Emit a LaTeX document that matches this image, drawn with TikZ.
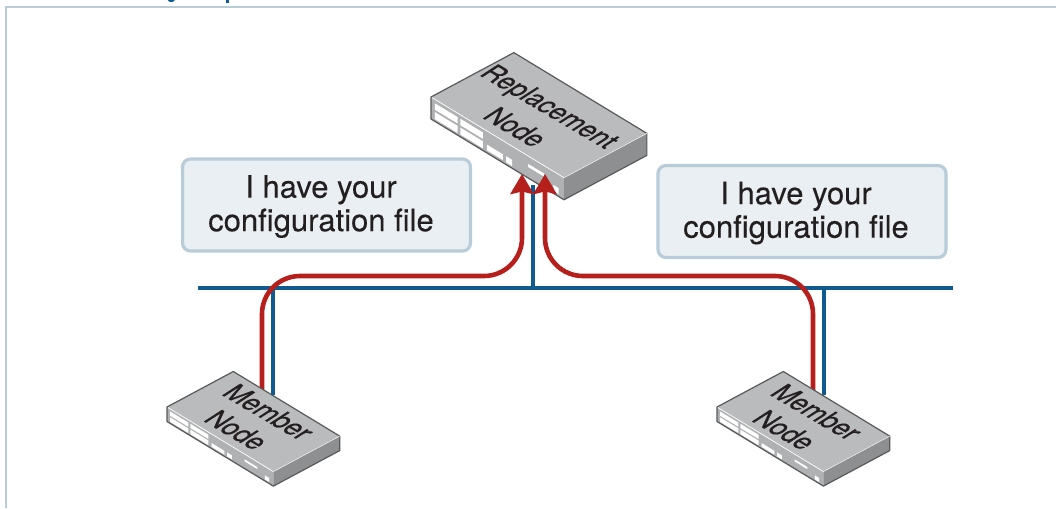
\documentclass[tikz,border=0pt]{standalone}
\usepackage{fontspec}
\setmainfont{TeX Gyre Heros}
\newfontfamily\swfont[FakeBold=0.5]{TeX Gyre Heros}
\newfontfamily\msgfont[FakeBold=0.2]{TeX Gyre Heros}
\usetikzlibrary{arrows.meta}
\definecolor{frameC}{HTML}{B8CCD9}
\definecolor{boxF}{HTML}{E9EFF2}
\definecolor{busC}{HTML}{0F5A8F}
\definecolor{redC}{HTML}{B5201C}
\definecolor{topC}{HTML}{BABBBD}
\definecolor{frontC}{HTML}{B0B1B3}
\definecolor{sideC}{HTML}{8E8F91}
\definecolor{edgeC}{HTML}{58595B}
\definecolor{inkC}{HTML}{231F20}
\tikzset{
  x=1pt,y=-1pt,
  framel/.style={draw=frameC,line width=2.2pt},
  msgbox/.style={draw=frameC,fill=boxF,line width=3.2pt,rounded corners=8pt,minimum width=288pt,minimum height=92pt,inner sep=0pt},
  msgtext/.style={align=center,inner sep=0pt,text=inkC,font=\msgfont\fontsize{31}{33.5}\selectfont},
  busline/.style={draw=busC,line width=3.6pt},
  redline/.style={draw=redC,line width=4.6pt},
  swlabel/.style={text=inkC,inner sep=0pt,rotate=-30.5,xslant=0.5,yscale=1.05,font=\swfont\fontsize{25}{26}\selectfont},
  portw/.style={fill=white},
}
% #1 name, #2 left x, #3 left y, #4 scale, #5 height
\newcommand{\netswitch}[5]{%
  \begin{scope}[shift={(#2,#3)}]
    \coordinate (#1-L) at (0,0);
    \coordinate (#1-B) at ({66.3*#4},{-35.5*#4});
    \coordinate (#1-F) at ({106.4*#4},{64.6*#4});
    \coordinate (#1-R) at ({172.7*#4},{29.1*#4});
    \coordinate (#1-Ld) at (0,#5);
    \coordinate (#1-Fd) at ({106.4*#4},{64.6*#4+#5});
    \coordinate (#1-Rd) at ({172.7*#4},{29.1*#4+#5});
    \fill[frontC] (#1-L) -- (#1-F) -- (#1-Fd) -- (#1-Ld) -- cycle;
    \fill[sideC] (#1-F) -- (#1-R) -- (#1-Rd) -- (#1-Fd) -- cycle;
    \fill[topC] (#1-L) -- (#1-B) -- (#1-R) -- (#1-F) -- cycle;
    \foreach \ta/\tb/\da/\db in {.03/.20/.18/.47,.03/.20/.58/.90,.22/.39/.18/.47,.22/.39/.58/.90,.42/.54/.62/.88,.565/.61/.62/.90,.92/.96/.62/.90}{
      \fill[portw] ({\ta*106.4*#4},{\ta*64.6*#4+\da*#5}) -- ({\tb*106.4*#4},{\tb*64.6*#4+\da*#5}) -- ({\tb*106.4*#4},{\tb*64.6*#4+\db*#5}) -- ({\ta*106.4*#4},{\ta*64.6*#4+\db*#5}) -- cycle;
    }
    \fill[portw] ({.73*106.4*#4},{.73*64.6*#4+.36*#5}) -- ({.85*106.4*#4},{.85*64.6*#4+.36*#5}) -- ({.85*106.4*#4},{.85*64.6*#4+.5*#5}) -- ({.73*106.4*#4},{.73*64.6*#4+.5*#5}) -- cycle;
    \draw[white,line width=.7pt] (#1-L) -- (#1-F);
    \draw[edgeC,line width=1.2pt,line join=round] (#1-Ld) -- (#1-L) -- (#1-B) -- (#1-R) -- (#1-Rd) -- (#1-Fd) -- (#1-Ld);
    \draw[white!70!topC,line width=.6pt] (#1-F) -- (#1-R);
  \end{scope}
}
\begin{document}
\begin{tikzpicture}
\useasboundingbox (0,0) rectangle (1056,508);
\fill[white] (0,0) rectangle (1056,508);
\coordinate (frameA) at (6.2,508);
\coordinate (frameB) at (6.2,7);
\coordinate (frameC1) at (1056,7);
\draw[framel] (frameA) -- (frameB) -- (frameC1);
% clipped remains of a line of text above the frame
\fill[busC] (167.5,0) .. controls (169,2.6) and (173,3) .. (175,0) -- cycle;
\fill[busC] (226,0) rectangle (229,3);
% bus
\coordinate (busL) at (198,288);
\coordinate (busR) at (953,288);
\coordinate (busRep) at (533,288);
\coordinate (busM1) at (273,288);
\coordinate (busM2) at (824,288);
\coordinate (repIn) at (533,185);
\coordinate (m1In) at (273,395);
\coordinate (m2In) at (824,395);
\draw[busline] (busL) -- (busR);
\draw[busline] (busRep) -- (repIn);
\draw[busline] (busM1) -- (m1In);
\draw[busline] (busM2) -- (m2In);
% boxes
\node[msgbox] (msgA) at (326.5,205) {};
\node[msgtext] (msgAt) at (321,206.5) {I have your\\configuration file};
\node[msgbox] (msgB) at (802,211.5) {};
\node[msgtext] (msgBt) at (796,213) {I have your\\configuration file};
% replacement node
\netswitch{rep}{431}{97}{1.25}{22}
\node[swlabel] (repT1) at (548,108) {Replacement};
\node[swlabel] (repT2) at (516,127) {Node};
% red
\coordinate (m1Out) at (262,395);
\coordinate (m1Up) at (262,276);
\coordinate (repA) at (522,276);
\coordinate (repATip) at (522,174);
\coordinate (m2Out) at (813,395);
\coordinate (m2Up) at (813,276);
\coordinate (repB) at (545,276);
\coordinate (repBTip) at (545,174);
\begin{scope}[redline]
\path[draw,rounded corners=38pt,-{Stealth[width=23pt,length=20pt,inset=2.5pt]}] (m1Out) -- (m1Up) -- (repA) -- (repATip);
\path[draw,rounded corners=38pt,-{Stealth[width=23pt,length=20pt,inset=2.5pt]}] (m2Out) -- (m2Up) -- (repB) -- (repBTip);
\end{scope}
% members
\netswitch{mA}{167}{407}{1}{14.5}
\node[swlabel] (mAT1) at (269,412) {Member};
\node[swlabel] (mAT2) at (237,430) {Node};
\netswitch{mB}{717}{407}{1}{14.5}
\node[swlabel] (mBT1) at (817,412) {Member};
\node[swlabel] (mBT2) at (785,430) {Node};
\end{tikzpicture}
\end{document}
